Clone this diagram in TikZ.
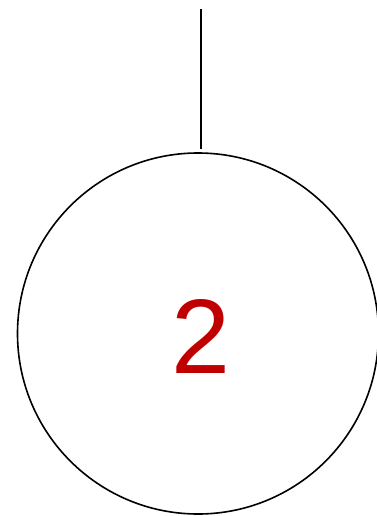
\documentclass[tikz,border=0pt]{standalone}
\usepackage{fontspec}
\setmainfont{Liberation Sans}
\usetikzlibrary{positioning}
\definecolor{NumRed}{HTML}{C00000}

\begin{document}
\begin{tikzpicture}[x=1pt, y=-1pt,
  ballnode/.style={draw=black, line width=1.6pt, circle, minimum size=361pt, inner sep=0pt},
  numtext/.style={text=NumRed, inner sep=0pt, font=\fontsize{106}{106}\selectfont},
  hanger/.style={draw=black, line width=1.6pt}]
  \useasboundingbox (0,0) rectangle (376,516);
  \node[ballnode] (ball) at (198,333.5) {};
  \node[numtext] (num) at ([shift={(3,3)}]ball.center) {2};
  \coordinate (top) at (201,9);
  \draw[hanger, shorten >=3pt] (top) -- (top |- ball.north);
\end{tikzpicture}
\end{document}
